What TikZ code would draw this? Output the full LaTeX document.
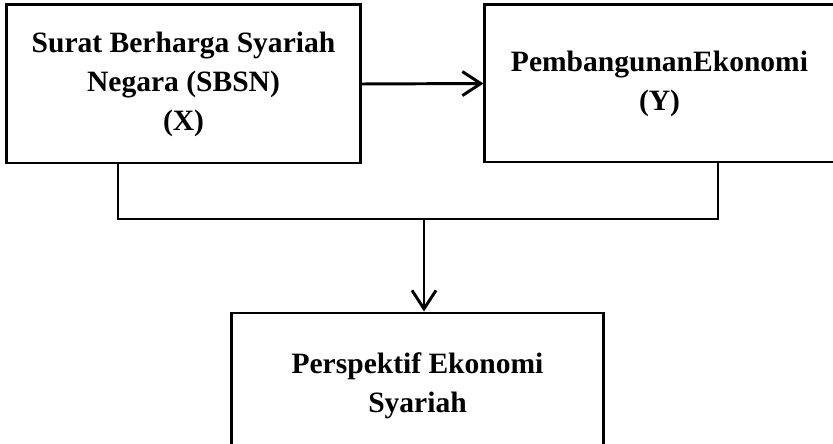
\documentclass[tikz,border=0pt]{standalone}
\usepackage{fontspec}
\setmainfont{Liberation Serif}
\usetikzlibrary{arrows.meta}

\begin{document}
\begin{tikzpicture}[x=0.025cm, y=-0.025cm, line width=2.1pt,
  varbox/.style={draw, align=center, inner sep=0pt,
    font=\bfseries\fontsize{21}{27.7}\selectfont},
  barb/.style={-{Straight Barb[length=4.6mm, width=6mm, line width=2.1pt]}}]
  \useasboundingbox (0,0) rectangle (833,444);

  % Variable X
  \node[varbox, minimum width=8.825cm, minimum height=3.95cm] (sbsn) at (183.5,84)
    {Surat Berharga Syariah\\Negara (SBSN)\\(X)};

  % Variable Y
  \node[varbox, minimum width=8.725cm, minimum height=3.925cm] (pemb) at (659.5,83.5)
    {PembangunanEkonomi\\(Y)};

  % Perspective box
  \node[varbox, minimum width=9.275cm, minimum height=3.65cm] (persp) at (417.5,386)
    {Perspektif Ekonomi\\Syariah};

  % Arrow X to Y
  \draw[barb] (sbsn.east) -- (pemb.west);

  % Joining line below both boxes
  \coordinate (join) at (424,219);
  \draw (118,0 |- sbsn.south) |- (join) -| (718,0 |- pemb.south);
  \draw[barb] (join) -- (join |- persp.north);
\end{tikzpicture}
\end{document}
